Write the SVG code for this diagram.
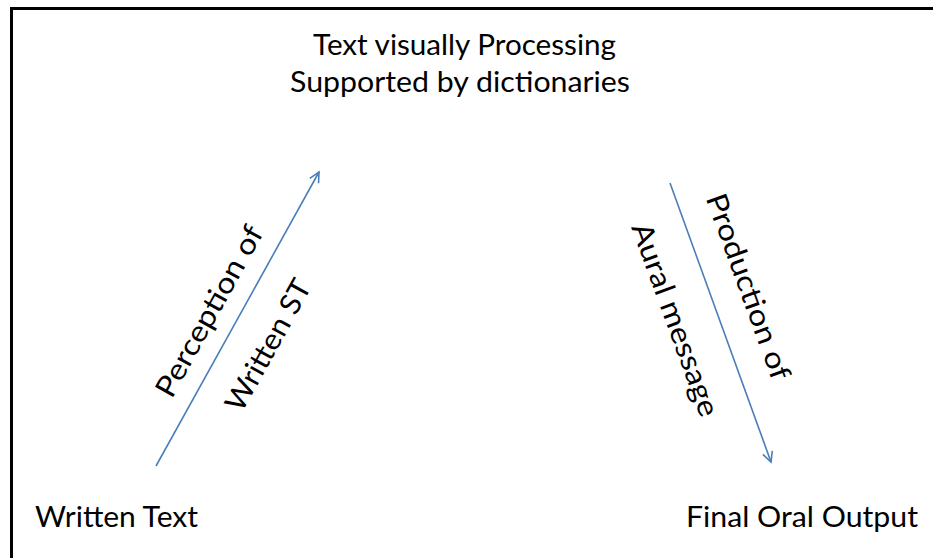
<svg xmlns="http://www.w3.org/2000/svg" width="933" height="558" viewBox="0 0 933 558">
<style>
.t{font-family:Lato,"Open Sans","Liberation Sans",sans-serif;font-size:29px;fill:#000}
.c{stroke:#4a7ebb;stroke-width:1.6;fill:none}
</style>
<defs>
<marker id="ah" markerWidth="14" markerHeight="14" refX="11" refY="6" orient="auto" markerUnits="userSpaceOnUse">
<path d="M1,1 L11,6 L1,11" fill="none" stroke="#4a7ebb" stroke-width="1.6"/>
</marker>
</defs>
<rect x="0" y="0" width="933" height="558" fill="#fff"/>
<rect x="11.5" y="8.5" width="960" height="600" fill="none" stroke="#000" stroke-width="3"/>
<g id="top">
<text class="t" x="313" y="55" textLength="303" lengthAdjust="spacingAndGlyphs">Text visually Processing</text>
<text class="t" x="290" y="92" textLength="340" lengthAdjust="spacingAndGlyphs">Supported by dictionaries</text>
</g>
<g id="written">
<text class="t" x="35" y="527" textLength="163" lengthAdjust="spacingAndGlyphs">Written Text</text>
</g>
<g id="final">
<text class="t" x="686" y="527" textLength="232" lengthAdjust="spacingAndGlyphs">Final Oral Output</text>
</g>
<g id="connectors">
<line class="c" x1="156" y1="466" x2="319" y2="172" marker-end="url(#ah)"/>
<line class="c" x1="670" y1="183" x2="771" y2="462" marker-end="url(#ah)"/>
</g>
<g id="labels">
<text class="t" text-anchor="middle" transform="translate(218,316) rotate(-61)" textLength="191" lengthAdjust="spacingAndGlyphs">Perception of</text>
<text class="t" text-anchor="middle" transform="translate(277,350) rotate(-61)" textLength="146" lengthAdjust="spacingAndGlyphs">Written ST</text>
<text class="t" text-anchor="middle" transform="translate(739,290) rotate(70)" textLength="196" lengthAdjust="spacingAndGlyphs">Production of</text>
<text class="t" text-anchor="middle" transform="translate(666,323) rotate(70)" textLength="204" lengthAdjust="spacingAndGlyphs">Aural message</text>
</g>
</svg>
